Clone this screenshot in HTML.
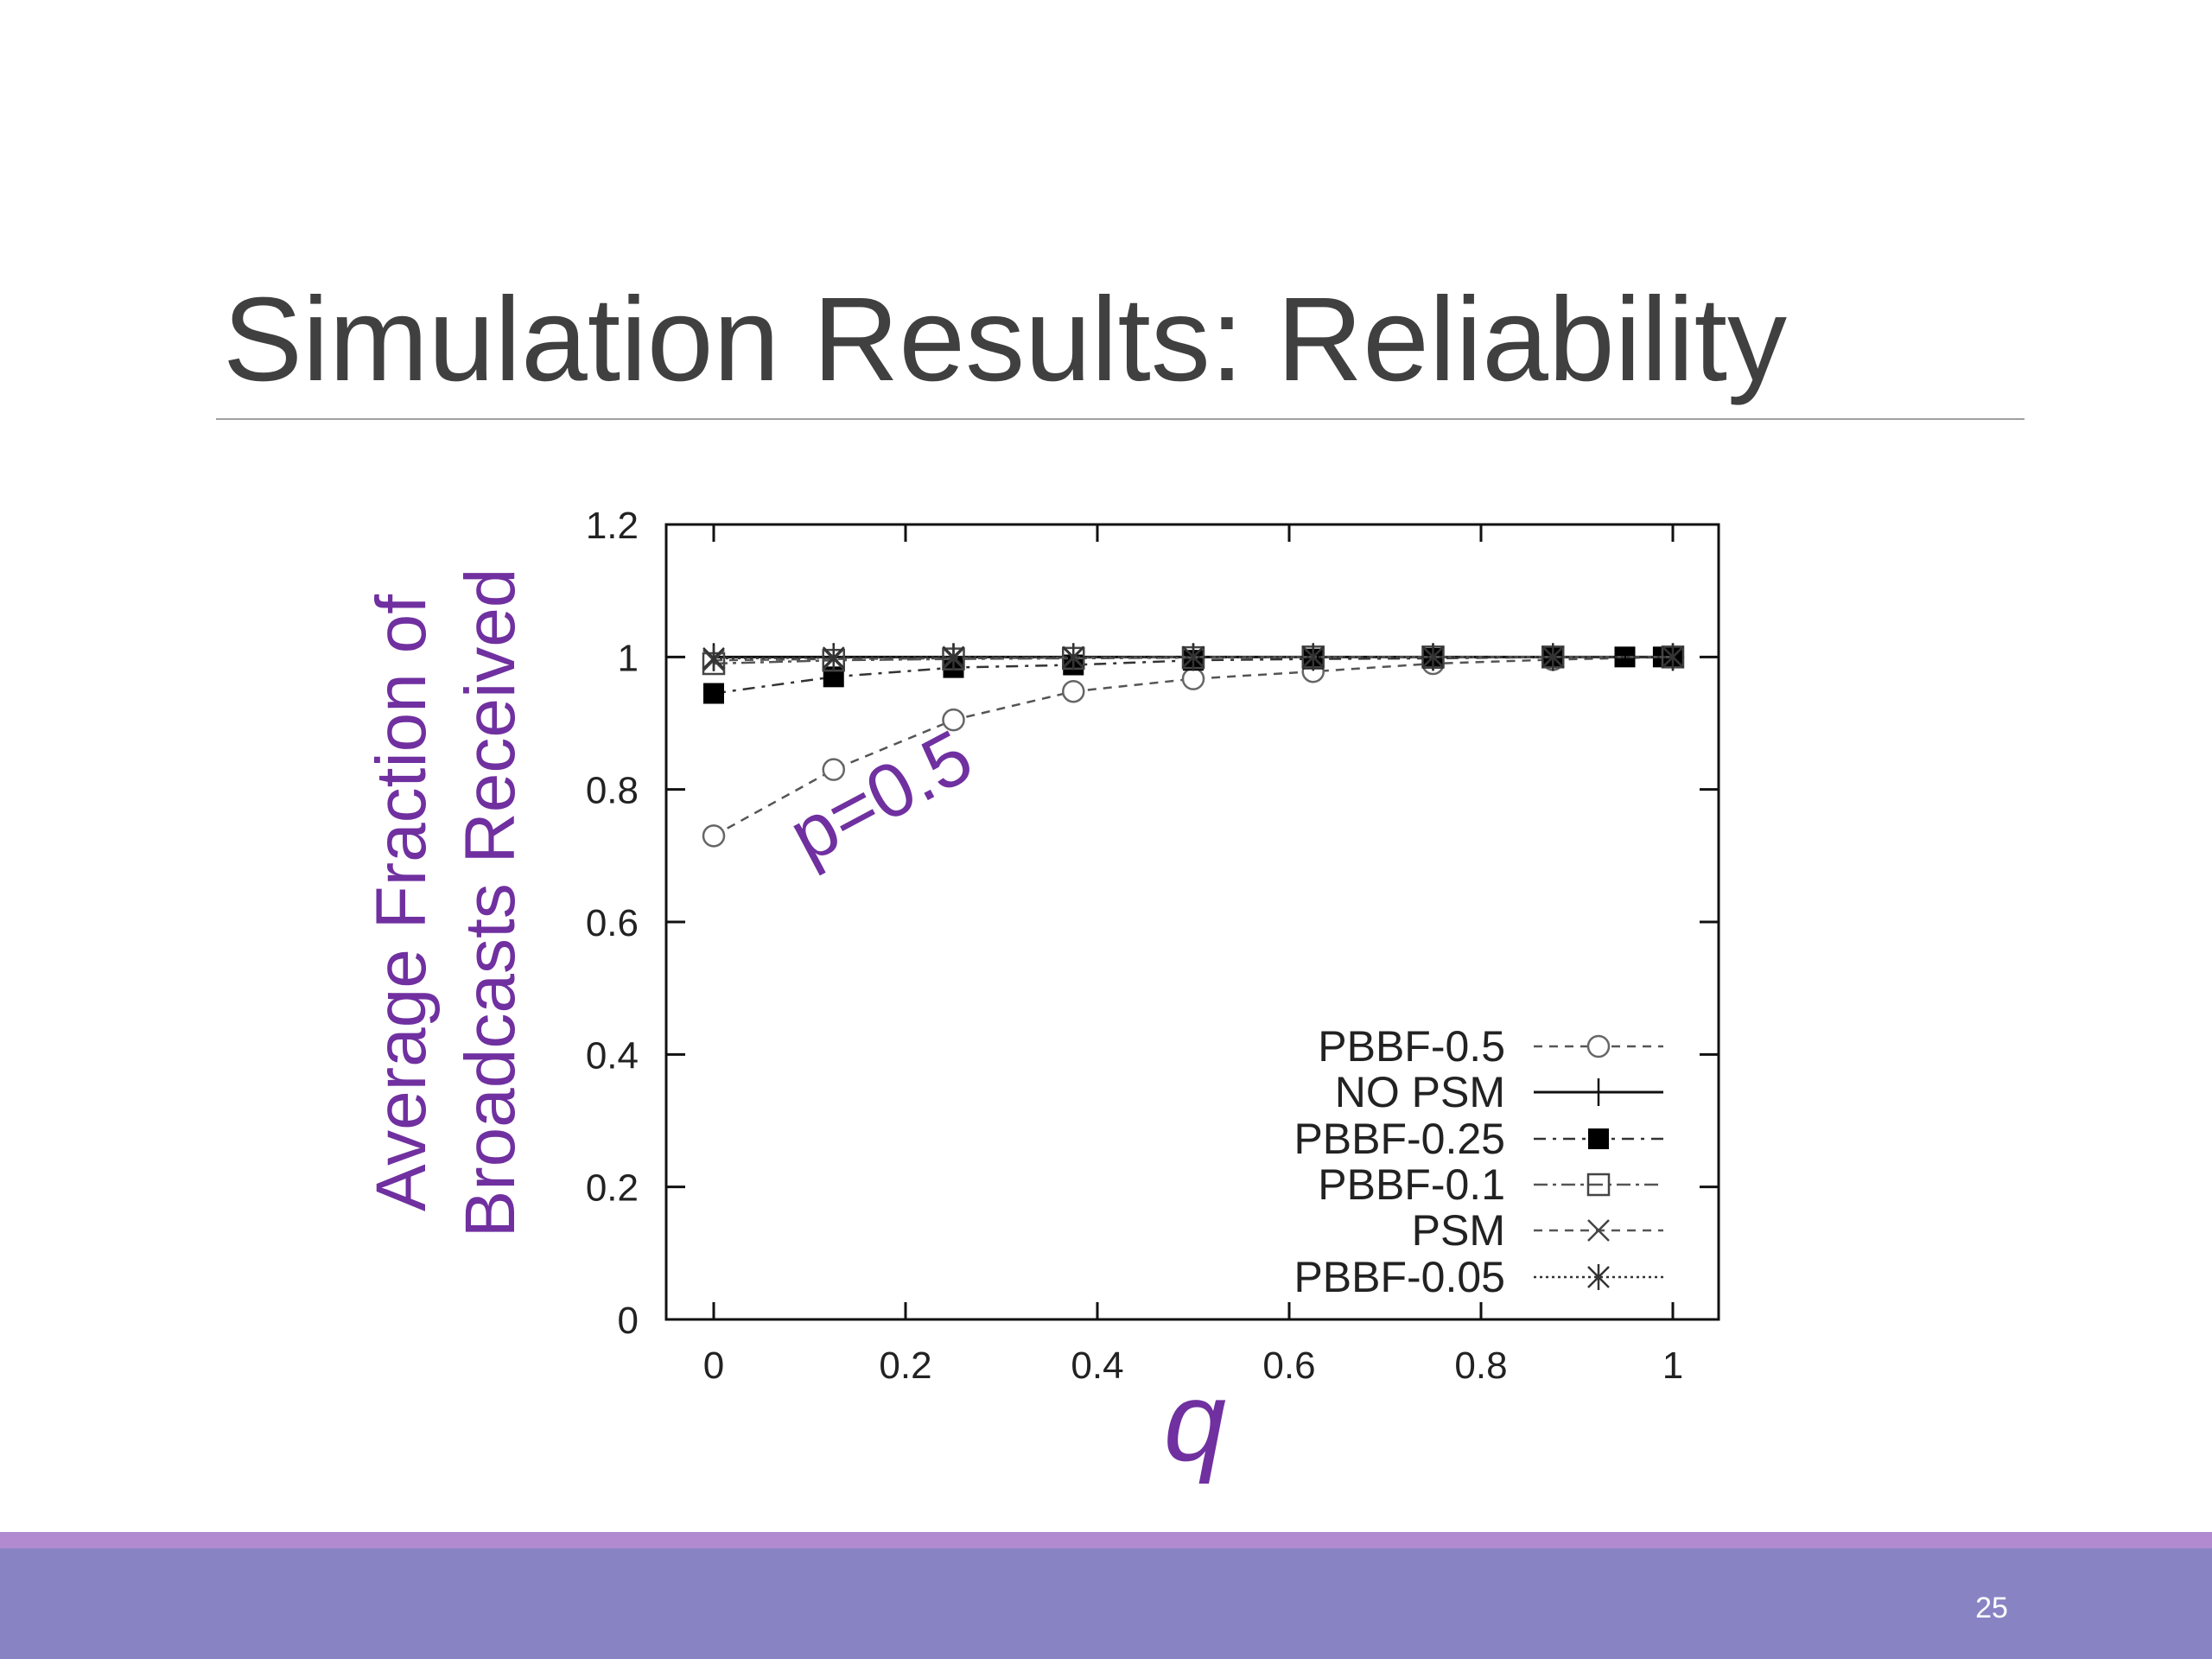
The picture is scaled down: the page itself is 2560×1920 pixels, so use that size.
<!DOCTYPE html>
<html><head><meta charset="utf-8"><style>
html,body{margin:0;padding:0;background:#fff;}
svg{display:block;font-family:"Liberation Sans",sans-serif;}
</style></head><body>
<svg id="chart" width="2560" height="1920" viewBox="0 0 2560 1920" xmlns="http://www.w3.org/2000/svg">
<text x="258" y="440" font-size="138" fill="#404040">Simulation Results: Reliability</text>
<line x1="250" y1="485" x2="2343" y2="485" stroke="#a0a0a0" stroke-width="2"/>
<rect x="0" y="1773" width="2560" height="20" fill="#b28ad0"/>
<rect x="0" y="1792" width="2560" height="128" fill="#8884c4"/>
<text x="2305" y="1872" font-size="34" fill="#fff" text-anchor="middle">25</text>
<g id="plot"></g>
<text transform="translate(492,1045) rotate(-90)" font-size="82" fill="#7030a0" text-anchor="middle">Average Fraction of</text>
<text transform="translate(595,1045) rotate(-90)" font-size="82" fill="#7030a0" text-anchor="middle">Broadcasts Received</text>
<text x="1383" y="1690" font-size="130" font-style="italic" fill="#7030a0" text-anchor="middle">q</text>
<text transform="translate(935,1000) rotate(-28)" font-size="88" fill="#7030a0">p=0.5</text>
</svg>
<script>
const xTicks=[0,0.2,0.4,0.6,0.8,1];
const xTickLabels=["0","0.2","0.4","0.6","0.8","1"];
const yTicks=[0,0.2,0.4,0.6,0.8,1,1.2];
const yTickLabels=["0","0.2","0.4","0.6","0.8","1","1.2"];
const qVals=[0,0.125,0.25,0.375,0.5,0.625,0.75,0.875,1];
const qVals25=[0,0.125,0.25,0.375,0.5,0.625,0.75,0.875,0.95,0.99,1];
const pbbf05=[0.73,0.83,0.905,0.948,0.967,0.978,0.99,0.996,1];
const noPsm=[1,1,1,1,1,1,1,1,1];
const pbbf025=[0.945,0.97,0.984,0.988,0.995,0.997,0.998,1,1,1,1];
const pbbf01=[0.99,0.995,0.997,0.998,0.999,1,1,1,1];
const psm=[0.995,0.997,0.998,0.999,1,1,1,1,1];
const pbbf005=[0.998,0.999,1,1,1,1,1,1,1];
const legendNames=["PBBF-0.5","NO PSM","PBBF-0.25","PBBF-0.1","PSM","PBBF-0.05"];

const NS="http://www.w3.org/2000/svg";
const L=771,R=1989,T=607,B=1527;
const X0=826,X1=1936;
function sx(v){return X0+(X1-X0)*v;}
function sy(v){return B-(B-T)*v/1.2;}
const g=document.getElementById('plot');
function mk(tag,attrs,parent){const e=document.createElementNS(NS,tag);for(const k in attrs)e.setAttribute(k,attrs[k]);(parent||g).appendChild(e);return e;}

const frame=mk('rect',{x:L,y:T,width:R-L,height:B-T,fill:'none',stroke:'#111','stroke-width':3});


xTicks.forEach((v,i)=>{
  const t1=mk('line',{x1:sx(v),x2:sx(v),y1:B,y2:B-20,stroke:'#111','stroke-width':3});
  
  
  const t2=mk('line',{x1:sx(v),x2:sx(v),y1:T,y2:T+20,stroke:'#111','stroke-width':3});
  
  
  const tx=mk('text',{x:sx(v),y:B+68,'font-size':44,fill:'#222','text-anchor':'middle'});
  tx.textContent=xTickLabels[i];
  
  
});
yTicks.forEach((v,i)=>{
  const t1=mk('line',{x1:L,x2:L+22,y1:sy(v),y2:sy(v),stroke:'#111','stroke-width':3});
  
  
  const t2=mk('line',{x1:R,x2:R-22,y1:sy(v),y2:sy(v),stroke:'#111','stroke-width':3});
  
  
  const tx=mk('text',{x:L-32,y:sy(v)+16,'font-size':44,fill:'#222','text-anchor':'end'});
  tx.textContent=yTickLabels[i];
  
  
});

function marker(type,x,y,parent){
  const s=12;
  if(type==='circle'){mk('circle',{cx:x,cy:y,r:12,fill:'#fff',stroke:'#666','stroke-width':2.5},parent);}
  else if(type==='plus'){mk('line',{x1:x,x2:x,y1:y-16,y2:y+16,stroke:'#111','stroke-width':2.5},parent);}
  else if(type==='fsquare'){mk('rect',{x:x-s,y:y-s,width:2*s,height:2*s,fill:'#000'},parent);}
  else if(type==='osquare'){mk('rect',{x:x-s,y:y-s,width:2*s,height:2*s,fill:'none',stroke:'#444','stroke-width':2.5},parent);}
  else if(type==='cross'){mk('path',{d:`M${x-s} ${y-s}L${x+s} ${y+s}M${x-s} ${y+s}L${x+s} ${y-s}`,stroke:'#444','stroke-width':2.5},parent);}
  else if(type==='star'){mk('path',{d:`M${x-s} ${y-s}L${x+s} ${y+s}M${x-s} ${y+s}L${x+s} ${y-s}M${x} ${y-s-3}L${x} ${y+s+3}`,stroke:'#333','stroke-width':2.5},parent);}
}
const series=[
 {name:'pbbf-0.5',xs:qVals,ys:pbbf05,m:'circle',dash:'10 8',color:'#555',w:2.5},
 {name:'no-psm',xs:qVals,ys:noPsm,m:'plus',dash:'',color:'#111',w:3},
 {name:'pbbf-0.25',xs:qVals25,ys:pbbf025,m:'fsquare',dash:'14 8 4 8',color:'#333',w:2.5},
 {name:'pbbf-0.1',xs:qVals,ys:pbbf01,m:'osquare',dash:'16 6 4 6',color:'#555',w:2.5},
 {name:'psm',xs:qVals,ys:psm,m:'cross',dash:'10 8',color:'#555',w:2.5},
 {name:'pbbf-0.05',xs:qVals,ys:pbbf005,m:'star',dash:'3 4',color:'#333',w:2.5}
];
series.forEach(s=>{
  const grp=mk('g',{});
  
  
  const pts=s.xs.map((q,i)=>sx(q)+','+sy(s.ys[i])).join(' ');
  const pl=mk('polyline',{points:pts,fill:'none',stroke:s.color,'stroke-width':s.w,'stroke-dasharray':s.dash},grp);
  
  
  s.xs.forEach((q,i)=>marker(s.m,sx(q),sy(s.ys[i]),grp));
});
const legY=[1211,1264,1318,1371,1424,1478];
series.forEach((s,i)=>{
  const grp=mk('g',{});
  
  
  const t=mk('text',{x:1742,y:legY[i]+17,'font-size':50,fill:'#222','text-anchor':'end'},grp);
  t.textContent=legendNames[i];
  mk('line',{x1:1775,x2:1925,y1:legY[i],y2:legY[i],stroke:s.color,'stroke-width':s.w,'stroke-dasharray':s.dash},grp);
  marker(s.m,1850,legY[i],grp);
});
</script>
</body></html>
